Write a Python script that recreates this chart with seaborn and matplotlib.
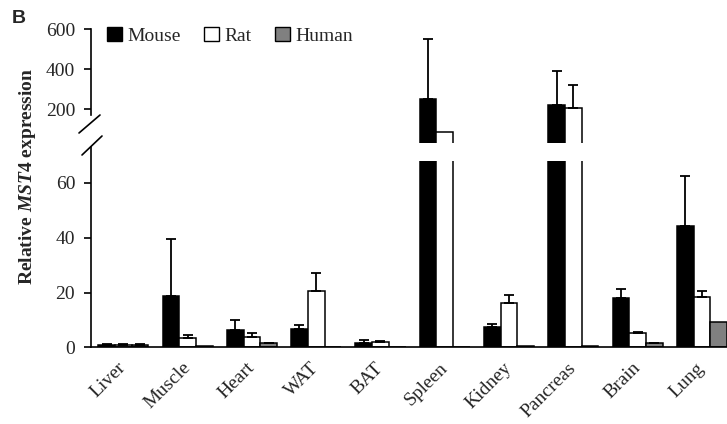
import numpy as np
import pandas as pd
import matplotlib
matplotlib.use("Agg")
import matplotlib.pyplot as plt
import seaborn as sns
from matplotlib.patches import Patch
from matplotlib.lines import Line2D

tissues = ["Liver", "Muscle", "Heart", "WAT", "BAT", "Spleen", "Kidney", "Pancreas", "Brain", "Lung"]
species = ["Mouse", "Rat", "Human"]
mouse = [1.0, 18.8, 6.3, 6.7, 1.6, 248, 7.5, 218, 18.0, 44.4]
mouse_err = [0.3, 20.7, 3.6, 1.5, 1.1, 300, 0.9, 173, 3.3, 18.3]
rat = [0.9, 3.4, 3.9, 20.6, 1.8, 85, 16.2, 206, 5.1, 18.5]
rat_err = [0.2, 1.0, 1.2, 6.5, 0.4, 0, 2.9, 114, 0.6, 2.2]
human = [0.9, 0.3, 1.4, 0, 0, 0, 0.6, 0.3, 1.4, 9.1]
human_err = [0.2, 0, 0.2, 0, 0, 0, 0, 0, 0.2, 0]
upper_ticks = [200, 400, 600]
lower_ticks = [0, 20, 40, 60]

colors = {"Mouse": "#000000", "Rat": "#ffffff", "Human": "#808080"}

df = pd.DataFrame({
    "Tissue": tissues * 3,
    "Species": ["Mouse"] * 10 + ["Rat"] * 10 + ["Human"] * 10,
    "Value": mouse + rat + human,
})

sns.set_style("white")
plt.rcParams["font.family"] = ["Liberation Serif", "DejaVu Serif"]
plt.rcParams["mathtext.fontset"] = "custom"
plt.rcParams["mathtext.it"] = "Liberation Serif:italic:bold"
plt.rcParams["mathtext.rm"] = "Liberation Serif:bold"

W, H = 727, 424
fig = plt.figure(figsize=(W / 100, H / 100), dpi=100)

def fx(px):
    return px / W

def fy(py):
    return 1 - py / H

left = fx(90.5)
right = fx(727)
ax_up = fig.add_axes([left, fy(143), right - left, fy(29) - fy(143)])
ax_lo = fig.add_axes([left, fy(347.3), right - left, fy(161) - fy(347.3)])

XLIM = (-0.51, 9.39)
LO_TOP = 68
UP_BOTTOM = 30

def draw(ax, upper):
    sns.barplot(data=df, x="Tissue", y="Value", hue="Species", order=tissues,
                hue_order=species, palette=colors, edgecolor="black", linewidth=1.1,
                width=0.78, errorbar=None, legend=False, saturation=1, ax=ax)
    for cont, errs in zip(ax.containers, [mouse_err, rat_err, human_err]):
        xs, hs, es = [], [], []
        for p, e in zip(cont.patches, errs):
            h = p.get_height()
            if upper and h < LO_TOP:
                p.set_visible(False)
                continue
            if e > 0 and (upper or h + e < LO_TOP):
                xs.append(p.get_x() + p.get_width() / 2)
                hs.append(h)
                es.append(e)
        if xs:
            ax.errorbar(xs, hs, yerr=[np.zeros(len(es)), es], fmt="none", ecolor="black",
                        elinewidth=1.3, capsize=3.5, capthick=1.3, zorder=1)
    ax.set_xlim(*XLIM)
    ax.set_xlabel("")
    ax.set_ylabel("")
    for s in ["top", "right"]:
        ax.spines[s].set_visible(False)
    ax.spines["left"].set_color("black")
    ax.spines["left"].set_linewidth(1.2)
    ax.tick_params(axis="y", which="both", left=True, length=5, width=1.2,
                   color="black", labelsize=14, pad=6, direction="out")

draw(ax_up, True)
draw(ax_lo, False)

ax_up.set_ylim(UP_BOTTOM, 600)
ax_up.set_yticks(upper_ticks)
ax_up.spines["bottom"].set_visible(False)
ax_up.spines["left"].set_bounds(170, 600)
ax_up.set_xticks([])
ax_up.patch.set_alpha(0)

ax_lo.set_ylim(0, LO_TOP)
ax_lo.set_yticks(lower_ticks)
ax_lo.spines["left"].set_bounds(0, 73.2)
ax_lo.spines["bottom"].set_color("black")
ax_lo.spines["bottom"].set_linewidth(1.2)
ax_lo.set_xticks(range(len(tissues)))
ax_lo.set_xticklabels(tissues, rotation=45, ha="right", va="center",
                      rotation_mode="anchor", fontsize=14)
ax_lo.tick_params(axis="x", length=0, pad=13)
ax_lo.patch.set_alpha(0)

# break marks
for (x0, y0, x1, y1) in [(79, 133, 100, 115), (82, 155, 102, 136)]:
    fig.add_artist(Line2D([fx(x0), fx(x1)], [fy(y0), fy(y1)], color="black", lw=1.2,
                          transform=fig.transFigure))

# legend
handles = [Patch(facecolor=colors[s], edgecolor="black", linewidth=1.0, label=s) for s in species]
fig.legend(handles=handles, loc="upper left", bbox_to_anchor=(fx(107), fy(27)), ncol=3,
           frameon=False, fontsize=14, handlelength=0.75, handleheight=0.7,
           handletextpad=0.3, columnspacing=1.2, borderaxespad=0, borderpad=0)

fig.text(fx(28), fy(176.5), r"Relative $\mathit{MST4}$ expression", rotation=90,
         ha="center", va="center", fontsize=14, fontweight="bold")
fig.text(fx(12), fy(23.3), "B", fontsize=14, fontweight="bold",
         family=["Liberation Sans", "DejaVu Sans"], ha="left", va="baseline")

fig.savefig("out.png", dpi=100)
